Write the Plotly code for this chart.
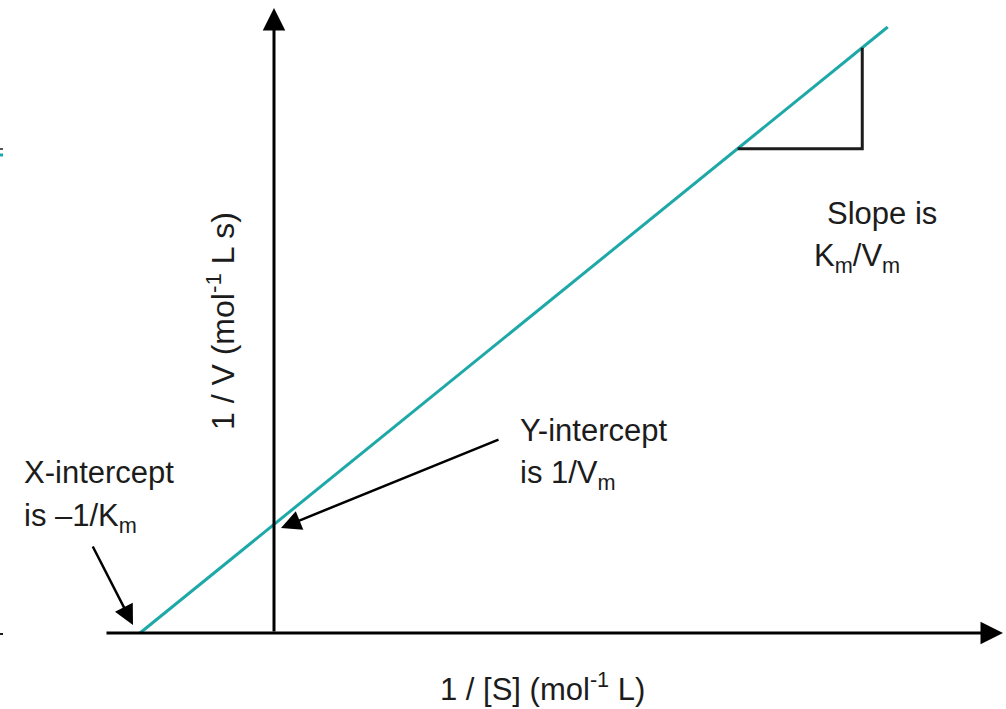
import plotly.graph_objects as go

# Lineweaver-Burk plot in units where Km = 1 and Vm = 1
inv_s = [-1.0, 4.58]          # 1/[S] at the x-intercept and at the line's end
inv_v = [0.0, 5.58]           # 1/V at those same points
slope_run = [3.46, 4.39]      # 1/[S] span of the slope triangle

TEAL = "#1fa8a8"
INK = "#1c1c1c"
FONT = "Liberation Sans, Arial, sans-serif"

# screen scale: 1 unit of 1/[S] = 134 px, 1 unit of 1/V = 108.6 px
ORIGIN_X, ORIGIN_Y, SX, SY = 274, 633, 134.0, 108.6
W, H = 1006, 709


def X(px):
    return (px - ORIGIN_X) / SX


def Y(py):
    return (ORIGIN_Y - py) / SY


fig = go.Figure()

# the double-reciprocal line
fig.add_trace(go.Scatter(x=inv_s, y=inv_v, mode="lines",
                         line=dict(color=TEAL, width=3), hoverinfo="skip"))

# slope triangle under the line
y_lo = inv_v[0] + (slope_run[0] - inv_s[0]) * (inv_v[1] - inv_v[0]) / (inv_s[1] - inv_s[0])
y_hi = inv_v[0] + (slope_run[1] - inv_s[0]) * (inv_v[1] - inv_v[0]) / (inv_s[1] - inv_s[0])
fig.add_trace(go.Scatter(x=[slope_run[0], slope_run[1], slope_run[1]],
                         y=[y_lo, y_lo, y_hi], mode="lines",
                         line=dict(color=INK, width=3), hoverinfo="skip"))

annotations = []


def arrow(x0, y0, x1, y1, width, size):
    annotations.append(dict(x=x1, y=y1, ax=x0, ay=y0, xref="x", yref="y",
                            axref="x", ayref="y", text="", showarrow=True,
                            arrowhead=2, arrowwidth=width, arrowsize=size,
                            arrowcolor="black"))


# axes drawn as arrows
arrow(X(105), 0, X(1003), 0, 3, 1.5)
arrow(0, 0, 0, Y(8), 3, 1.5)

# pointers to the intercepts
arrow(X(500), Y(439), X(281), Y(528), 2.5, 1.6)
arrow(X(92), Y(545), X(133), Y(625), 2.5, 1.6)


def label(text, px, py, size=31, anchor="left"):
    annotations.append(dict(x=X(px), y=Y(py), xref="x", yref="y", text=text,
                            showarrow=False, xanchor=anchor, yanchor="middle",
                            font=dict(family=FONT, size=size, color=INK)))


label("Slope is", 825, 213)
label("K<sub>m</sub>/V<sub>m</sub>", 812, 258)
label("Y-intercept", 518, 430)
label("is 1/V<sub>m</sub>", 518, 475)
label("X-intercept", 22, 472)
label("is \u20131/K<sub>m</sub>", 22, 518)
label("1 / [S] (mol<sup>-1</sup> L)", 542, 687, size=31, anchor="center")
annotations.append(dict(x=X(221), y=Y(321), xref="x", yref="y",
                        text="1 / V (mol<sup>-1</sup> L s)", textangle=-90,
                        showarrow=False, xanchor="center", yanchor="middle",
                        font=dict(family=FONT, size=32, color=INK)))

# tiny ticks at the left edge
shapes = [
    dict(type="line", xref="x", yref="y", x0=X(0), x1=X(3), y0=Y(149), y1=Y(149),
         line=dict(color=INK, width=1.5)),
    dict(type="line", xref="x", yref="y", x0=X(0), x1=X(3), y0=Y(155), y1=Y(155),
         line=dict(color=TEAL, width=3)),
    dict(type="line", xref="x", yref="y", x0=X(0), x1=X(3), y0=Y(634), y1=Y(634),
         line=dict(color=INK, width=2)),
]

fig.update_layout(
    width=W, height=H,
    margin=dict(l=0, r=0, t=0, b=0),
    paper_bgcolor="white", plot_bgcolor="white",
    showlegend=False,
    xaxis=dict(range=[X(0), X(W)], visible=False, fixedrange=True),
    yaxis=dict(range=[Y(H), Y(0)], visible=False, fixedrange=True),
    annotations=annotations,
    shapes=shapes,
)

fig.write_html("out.html", config={"displayModeBar": False})
